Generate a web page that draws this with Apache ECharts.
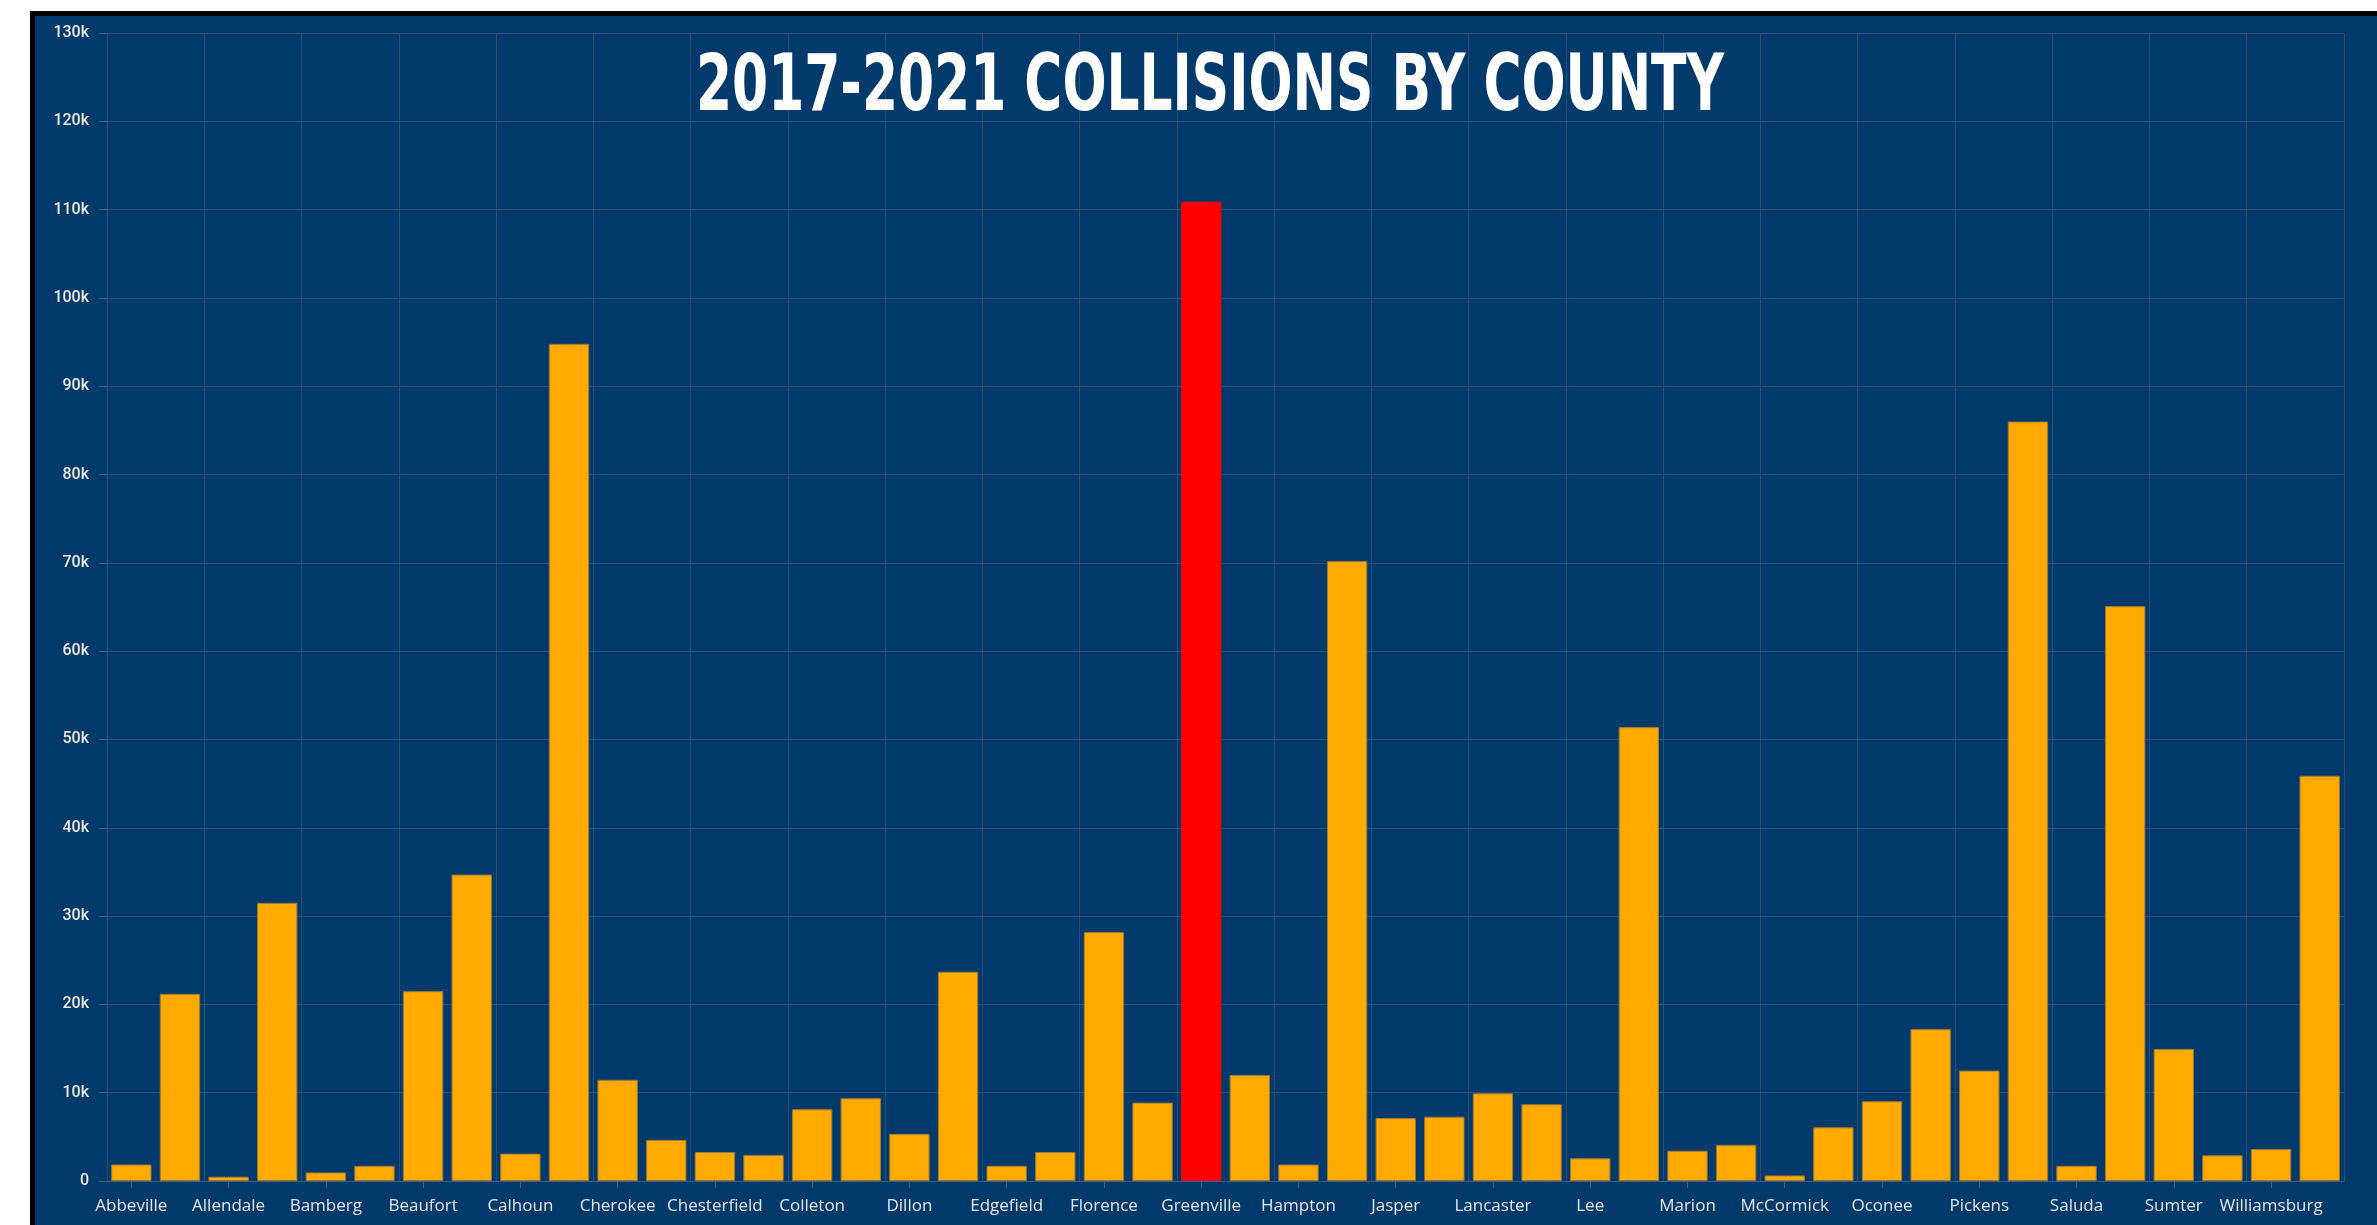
<!DOCTYPE html>
<html>
<head>
<meta charset="utf-8">
<script src="https://cdn.jsdelivr.net/npm/echarts@6/dist/echarts.min.js"></script>
<style>
  html, body { margin: 0; padding: 0; background: #ffffff; width: 2377px; height: 1225px; overflow: hidden; }
  #frame { position: absolute; left: 30px; top: 11px; width: 2347px; height: 1214px; background: #000; }
  #chart { position: absolute; left: 5px; top: 5px; width: 2342px; height: 1209px; background: #013a6b; }
</style>
</head>
<body>
<div id="frame"><div id="chart"></div></div>
<script>
const titleText = '2017-2021 COLLISIONS BY COUNTY';
const counties = ['Abbeville','Aiken','Allendale','Anderson','Bamberg','Barnwell','Beaufort','Berkeley','Calhoun','Charleston',
  'Cherokee','Chester','Chesterfield','Clarendon','Colleton','Darlington','Dillon','Dorchester','Edgefield','Fairfield',
  'Florence','Georgetown','Greenville','Greenwood','Hampton','Horry','Jasper','Kershaw','Lancaster','Laurens',
  'Lee','Lexington','Marion','Marlboro','McCormick','Newberry','Oconee','Orangeburg','Pickens','Richland',
  'Saluda','Spartanburg','Sumter','Union','Williamsburg','York'];
const collisions = [1870,21200,490,31500,970,1720,21500,34700,3100,94800,
  11460,4660,3280,2950,8130,9370,5340,23700,1720,3280,
  28200,8880,110900,12000,1870,70200,7130,7280,9930,8690,
  2570,51400,3430,4100,630,6080,9030,17200,12500,86000,
  1720,65100,14960,2910,3620,45900];
const highlightCounty = 'Greenville';
const yTicks = { min: 0, max: 130000, interval: 10000 };

const barColor = '#ffaa00';
const highlightColor = '#ff0000';
const faint = '#2d4d71';

const data = counties.map((c, i) => ({
  value: collisions[i],
  itemStyle: c === highlightCounty
    ? { color: highlightColor, borderColor: highlightColor }
    : { color: barColor }
}));

// measure title for condensed look
const titleFontSize = 78;
const titleFont = 'bold ' + titleFontSize + 'px "Liberation Sans Narrow", "DejaVu Sans Condensed", sans-serif';
const mctx = document.createElement('canvas').getContext('2d');
mctx.font = titleFont;
const measured = mctx.measureText(titleText).width;
const titleScaleX = 1028 / measured;

const chart = echarts.init(document.getElementById('chart'), null, { renderer: 'canvas' });
chart.setOption({
  backgroundColor: '#013a6b',
  animation: false,
  grid: { left: 72, right: 33, top: 17, bottom: 44, containLabel: false },
  xAxis: {
    type: 'category',
    data: counties,
    boundaryGap: true,
    axisLine: { show: true, lineStyle: { color: '#3e5e80', width: 1 } },
    axisTick: { show: true, alignWithLabel: true, interval: 1, length: 7, lineStyle: { color: '#3e5e80' } },
    axisLabel: { interval: 1, margin: 17, color: '#e6e6e6', fontFamily: 'Open Sans', fontSize: 17 },
    splitLine: { show: true, interval: 1, lineStyle: { color: faint, width: 1 } }
  },
  yAxis: {
    type: 'value',
    min: yTicks.min, max: yTicks.max, interval: yTicks.interval,
    axisLine: { show: true, lineStyle: { color: faint } },
    axisTick: { show: true, length: 8, lineStyle: { color: '#3e5e80' } },
    axisLabel: {
      margin: 18, color: '#ebe8dc', fontFamily: 'Roboto', fontWeight: 500, fontSize: 16,
      formatter: v => v === 0 ? '0' : (v / 1000) + 'k'
    },
    splitLine: { show: true, lineStyle: { color: faint, width: 1 } }
  },
  graphic: [{
    type: 'text',
    x: 1175, y: 74,
    scaleX: titleScaleX, scaleY: 1,
    z: 100,
    style: {
      text: titleText, x: 0, y: 0,
      font: titleFont, fill: '#ffffff',
      textAlign: 'center', textVerticalAlign: 'middle'
    }
  }],
  series: [{
    type: 'bar',
    data: data,
    barCategoryGap: '17%',
    itemStyle: { borderColor: '#9c7a33', borderWidth: 1 }
  }]
});
</script>
</body>
</html>
